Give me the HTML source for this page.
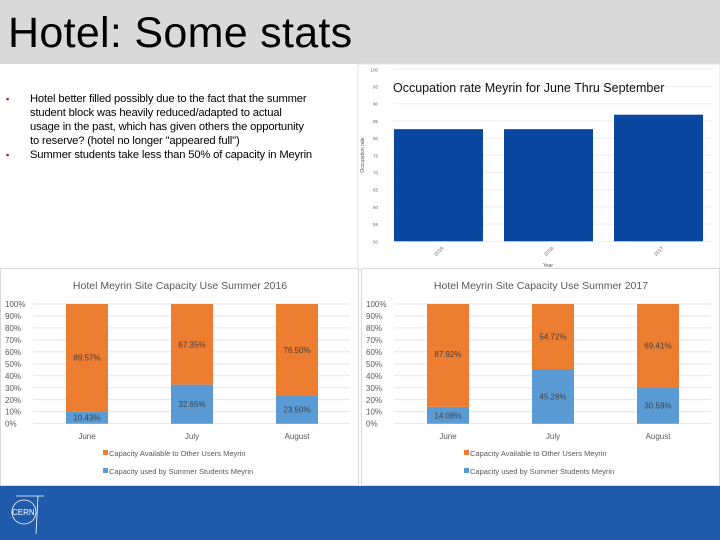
<!DOCTYPE html>
<html><head><meta charset="utf-8"><style>
body{margin:0;width:720px;height:540px;overflow:hidden;background:#fff;font-family:"Liberation Sans",sans-serif;position:relative}
#hdr{position:absolute;left:0;top:0;width:720px;height:64px;background:#d9d9d9}
#title{position:absolute;left:8px;top:9px;font-size:43px;color:#000;line-height:48px;letter-spacing:0.3px}
#bul{position:absolute;left:6px;top:92px;width:340px;font-size:11.2px;line-height:14px;color:#000;letter-spacing:-0.15px}
.b{position:relative;padding-left:24px}
.b span{position:absolute;left:0;color:#8b1a1a;font-size:9px}
#foot{position:absolute;left:0;top:486px;width:720px;height:54px;background:#1f5aab}
svg{position:absolute;left:0;top:0}
</style></head><body>
<div id="hdr"></div>
<div id="title">Hotel: Some stats</div>
<div id="bul">
<div class="b"><span>▪</span>Hotel better filled possibly due to the fact that the summer<br>student block was heavily reduced/adapted to actual<br>usage in the past, which has given others the opportunity<br>to reserve? (hotel no longer "appeared full")</div>
<div class="b"><span>▪</span>Summer students take less than 50% of capacity in Meyrin</div>
</div>
<div id="foot">
<svg width="40" height="50" style="left:8px;top:4px"><circle cx="16" cy="22" r="12" fill="none" stroke="#fff" stroke-width="0.8"/><text x="4" y="25" font-size="8" fill="#fff" font-family="Liberation Sans">CERN</text><line x1="8" y1="6" x2="36" y2="6" stroke="#fff" stroke-width="0.8"/><line x1="30" y1="6" x2="28" y2="44" stroke="#fff" stroke-width="0.8"/></svg>
</div>
<svg id="chart" width="720" height="540"></svg>
<script>
const years=['2015','2016','2017'];
const occValues=[82.6,82.6,86.8];
const occTicks=[50,55,60,65,70,75,80,85,90,95,100];
const months=['June','July','August'];
const used2016=[10.43,32.65,23.50];
const avail2016=[89.57,67.35,76.50];
const used2017=[14.08,45.28,30.59];
const avail2017=[87.92,54.72,69.41];
const pctTicks=[0,10,20,30,40,50,60,70,80,90,100];
const NS='http://www.w3.org/2000/svg';
const svg=document.getElementById('chart');
function mk(t,a,p){const e=document.createElementNS(NS,t);for(const k in a)e.setAttribute(k,a[k]);(p||svg).appendChild(e);return e;}
{
const g=mk('g',{});


mk('rect',{x:358,y:64,width:362,height:206,fill:'#fff',stroke:'#e0e0e0'},g);
const y=v=>241.3-(v-50)/50*172;
occTicks.forEach(t=>{
 mk('line',{x1:393,x2:713,y1:y(t),y2:y(t),stroke:'#eee'},g);
 const tx=mk('text',{x:378,y:y(t)+2,'font-size':4.5,fill:'#666','text-anchor':'end'},g);tx.textContent=t;
 
 
});
const bw=89,step=110;
years.forEach((yr,i)=>{
 const x=394+i*step;
 const r=mk('rect',{x:x,y:y(occValues[i]),width:bw,height:y(50)-y(occValues[i]),fill:'#0a47a1'},g);
 
 
 const t=mk('text',{x:x+bw/2,y:253,'font-size':5,fill:'#666','text-anchor':'middle',transform:`rotate(-45 ${x+bw/2} 251)`},g);t.textContent=yr;
 
 
});
const tt=mk('text',{x:393,y:92,'font-size':12.5,fill:'#111'},g);tt.textContent='Occupation rate Meyrin for June Thru September';


const yt=mk('text',{x:364,y:155,'font-size':5,fill:'#555','text-anchor':'middle',transform:'rotate(-90 364 155)'},g);yt.textContent='Occupation rate';


const xt=mk('text',{x:548,y:267,'font-size':5,fill:'#555','text-anchor':'middle'},g);xt.textContent='Year';


}
function stacked(ox,yr,used,avail,bx){
 const g=mk('g',{});
 
 
 mk('rect',{x:ox+0.5,y:268.5,width:358,height:217,fill:'#fff',stroke:'#d9d9d9'},g);
 const y=v=>423.7-v/100*119.7;
 pctTicks.forEach(t=>{
  mk('line',{x1:ox+33,x2:ox+350,y1:y(t),y2:y(t),stroke:'#d9d9d9','stroke-width':0.7},g);
  const tx=mk('text',{x:ox+5,y:y(t)+3,'font-size':8,fill:'#595959'},g);tx.textContent=t+'%';
  
  
 });
 const bw=42;
 months.forEach((m,i)=>{
  const x=ox+bx[i];
  const b=mk('rect',{x:x,y:y(used[i]),width:bw,height:y(0)-y(used[i]),fill:'#5b9bd5'},g);
  
  
  const o=mk('rect',{x:x,y:y(100),width:bw,height:y(used[i])-y(100),fill:'#ed7d31'},g);
  
  
  const l1=mk('text',{x:x+bw/2,y:y(used[i]/2)+3,'font-size':8,fill:'#404040','text-anchor':'middle'},g);l1.textContent=used[i].toFixed(2)+'%';
  
  
  const l2=mk('text',{x:x+bw/2,y:y(used[i]+avail[i]/2)+3,'font-size':8,fill:'#404040','text-anchor':'middle'},g);l2.textContent=avail[i].toFixed(2)+'%';
  
  
  const c=mk('text',{x:x+bw/2,y:439,'font-size':8,fill:'#595959','text-anchor':'middle'},g);c.textContent=m;
  
  
 });
 const t=mk('text',{x:ox+180,y:289,'font-size':10.5,fill:'#595959','text-anchor':'middle'},g);t.textContent='Hotel Meyrin Site Capacity Use Summer  '+yr;
 
 
 mk('rect',{x:ox+103,y:450,width:5,height:5,fill:'#ed7d31'},g);
 const la=mk('text',{x:ox+109,y:456,'font-size':7.5,fill:'#595959'},g);la.textContent='Capacity Available to Other Users Meyrin';
 
 
 mk('rect',{x:ox+103,y:468,width:5,height:5,fill:'#5b9bd5'},g);
 const lb=mk('text',{x:ox+109,y:474,'font-size':7.5,fill:'#595959'},g);lb.textContent='Capacity used by Summer Students Meyrin';
 
 
}
stacked(0,'2016',used2016,avail2016,[66,171,276]);
stacked(361,'2017',used2017,avail2017,[66,171,276]);
</script>
</body></html>
